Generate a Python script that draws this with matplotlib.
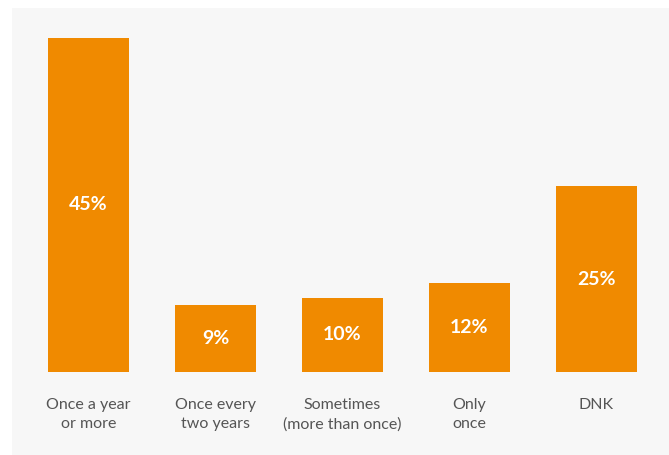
import matplotlib.pyplot as plt

categories = ["Once a year\nor more", "Once every\ntwo years", "Sometimes\n(more than once)", "Only\nonce", "DNK"]
values = [45, 9, 10, 12, 25]
labels = ["45%", "9%", "10%", "12%", "25%"]

W, H = 669, 455
fig = plt.figure(figsize=(W / 100, H / 100), dpi=100)
fig.patch.set_facecolor("white")

# light gray panel behind the chart
bg = fig.add_axes([12 / W, 0, 1 - 12 / W, 1 - 8 / H], zorder=-5)
bg.set_facecolor("#f7f7f7")
bg.set_xticks([])
bg.set_yticks([])
for s in bg.spines.values():
    s.set_visible(False)

# axes: bars sit on pixel row 372, top of panel at row 8
left, right = 12, 669
bottom, top = 372, 8
ax = fig.add_axes([left / W, 1 - bottom / H, (right - left) / W, (bottom - top) / H])
ax.patch.set_alpha(0)

px_per_cat = 127
px_per_pct = 334 / 45
x0 = (left - 88.5) / px_per_cat
x1 = (right - 88.5) / px_per_cat
ax.set_xlim(x0, x1)
ax.set_ylim(0, (bottom - top) / px_per_pct)

xs = range(len(values))
ax.bar(xs, values, width=81 / px_per_cat, color="#f08a00", zorder=2)

for x, v, lab in zip(xs, values, labels):
    ax.text(x, v / 2, lab, ha="center", va="center", color="white",
            fontsize=14, fontweight="bold", family="Lato", zorder=3)

ax.set_xticks(list(xs))
ax.set_xticklabels(categories, fontsize=11.5, family="Lato", color="#555555",
                   linespacing=1.45)
ax.tick_params(axis="x", length=0, pad=19)
ax.set_yticks([])
for s in ax.spines.values():
    s.set_visible(False)

fig.savefig("out.png", dpi=100, facecolor=fig.get_facecolor())
